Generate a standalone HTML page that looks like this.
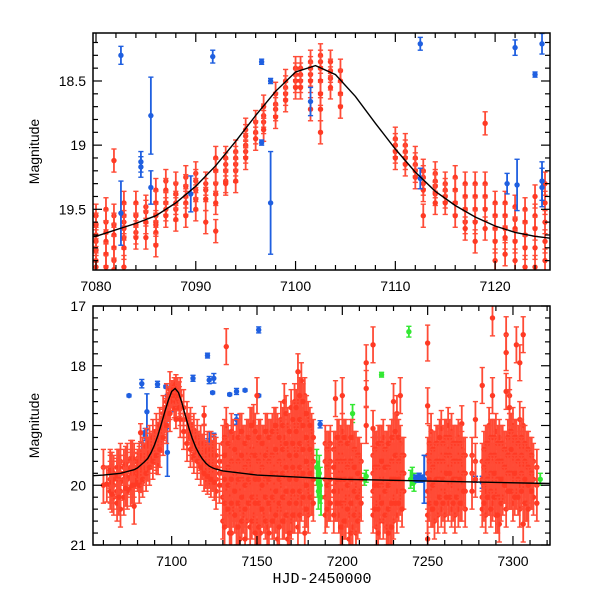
<!DOCTYPE html>
<html><head><meta charset="utf-8"><style>
body{margin:0;background:#fff}
svg{display:block;font-family:"Liberation Sans",sans-serif}
</style></head><body>
<svg id="chart" width="600" height="600" viewBox="0 0 600 600"></svg>
<script>
// ---- data ----
const redTopDays=[7080,7081,7081.8,7082.8,7084,7085,7086,7087,7088,7089,7090,7091,7092,7093,7094,7095,7096,7096.8,7098,7099,7100,7100.5,7101.5,7102.5,7103.5,7104.5,7110,7111,7112,7112.8,7114,7115,7116,7117,7118,7119,7120,7121,7122,7123,7124,7125];
const redTopMags=[[19.55,19.62,19.7,19.75,19.82,19.9,19.95],[19.5,19.6,19.68,19.75,19.85,19.95],[19.12,19.55,19.62,19.7,19.8,19.9,19.97],[19.45,19.55,19.6,19.65,19.72,19.8,19.95],[19.45,19.55,19.62,19.68,19.72],[19.48,19.52,19.6,19.72],[19.35,19.45,19.55,19.6,19.62,19.68,19.78],[19.28,19.35,19.45,19.5,19.55],[19.3,19.38,19.45,19.5,19.58],[19.25,19.32,19.4,19.45,19.55],[19.22,19.28,19.35,19.42,19.5],[19.3,19.35,19.42,19.6],[19.1,19.2,19.3,19.38,19.45,19.67],[19.1,19.15,19.2,19.28,19.3],[19.05,19.1,19.15,19.2,19.28],[18.88,18.93,19.0,19.05,19.1],[18.82,18.9,18.95],[18.7,18.77,18.82,18.88],[18.6,18.68,18.72,18.78],[18.5,18.55,18.6,18.65],[18.4,18.45,18.5,18.55],[18.4,18.45,18.5,18.55],[18.35,18.4,18.45,18.5,18.72],[18.3,18.35,18.4,18.5,18.6,18.72,18.9],[18.35,18.42,18.48,18.55],[18.42,18.5,18.6,18.7],[18.95,19.0,19.05,19.1],[19.0,19.05,19.1,19.15],[19.1,19.15,19.2,19.25],[19.2,19.25,19.3,19.35,19.55],[19.22,19.28,19.32,19.38,19.45],[19.3,19.35,19.4,19.45],[19.25,19.35,19.45,19.55],[19.3,19.4,19.5,19.6,19.65],[19.3,19.4,19.5,19.6,19.75],[18.83,19.3,19.4,19.5,19.65],[19.45,19.55,19.65,19.75,19.9],[19.45,19.55,19.65,19.72,19.85],[19.48,19.58,19.65,19.75,19.9],[19.5,19.6,19.7,19.8,19.95],[19.4,19.55,19.65,19.8,19.95],[19.3,19.45,19.6,19.75,19.9]];
const redTopErr=0.09;
const redBotDays=[7060,7062,7064,7066,7068,7070,7072,7074,7076,7078,7126,7128,7130,7132,7134,7136,7138,7140,7142,7144,7146,7148,7150,7152,7154,7156,7158,7160,7162,7164,7166,7168,7170,7172,7174,7176,7178,7180,7182,7190,7192,7196,7198,7200,7202,7204,7206,7208,7210,7214,7218,7220,7222,7224,7226,7228,7230,7232,7234,7236,7250,7252,7254,7256,7258,7260,7262,7264,7266,7268,7270,7272,7276,7278,7282,7284,7286,7288,7290,7292,7294,7296,7298,7300,7302,7304,7306,7308,7310,7312,7314];
const redBotMags=[[19.7,20.0],[19.98],[19.7,19.8,19.9,20.0,20.1,19.75],[19.8,20.0,20.2,19.9],[19.7,19.9,20.1,20.3,19.85],[19.6,19.8,19.95,20.1,20.4],[19.7,19.9,20.2,19.8],[19.6,19.75,19.9,20.1],[19.55,19.7,19.85,20.05],[19.6,19.75,19.9,20.0,20.35],[19.5,19.7,19.9,20.1],[19.6,19.8,20.0],[19.3,19.6,19.8,20.0,20.2,20.6],[17.68,19.0,19.5,19.8,20.1,20.4],[19.4,19.7,19.9,20.2,20.5,20.8],[19.2,19.6,19.85,20.1,20.4],[19.3,19.5,19.8,20.0,20.3,20.7],[19.1,19.5,19.8,20.1,20.4,20.9],[19.3,19.6,19.9,20.2,20.5],[19.2,19.5,19.8,20.0,20.3,20.6],[19.0,19.4,19.7,20.0,20.3,20.7],[18.95,19.4,19.7,19.9,20.2,20.5],[18.5,19.3,19.6,19.9,20.2,20.6,21.0],[19.2,19.5,19.8,20.1,20.4,20.8],[19.3,19.6,19.9,20.2,20.5],[19.1,19.4,19.8,20.0,20.3,20.7],[19.2,19.5,19.8,20.1,20.4],[19.0,19.4,19.7,20.0,20.3,20.6],[19.1,19.5,19.8,20.1,20.4,20.9],[18.9,19.3,19.7,20.0,20.4],[18.6,19.2,19.6,19.9,20.2,20.6],[19.0,19.4,19.8,20.1,20.5,20.9],[18.7,19.3,19.6,19.9,20.2,20.6],[18.6,19.0,19.4,19.8,20.2,20.5],[18.1,18.6,19.0,19.4,19.8,20.2,20.7],[18.25,18.6,19.0,19.4,19.8,20.3],[18.5,18.8,19.2,19.6,20.0,20.4,20.8],[18.9,19.3,19.7,20.1,20.5],[19.1,19.5,19.8,20.2],[19.3,19.6,19.9,20.2,20.5],[19.4,19.7,20.0,20.3],[18.55,19.4,19.7,20.0,20.3],[19.2,19.5,19.8,20.1,20.5],[18.5,19.1,19.5,19.8,20.1,20.4,20.7],[19.2,19.6,19.9,20.2,20.6],[19.3,19.6,19.9,20.2,20.5,20.9],[19.2,19.6,19.9,20.3,20.7],[19.4,19.7,20.0,20.4,20.8],[19.5,19.8,20.1,20.5],[17.95,18.38,19.0],[17.65,19.05,19.5,19.8,20.1,20.5],[19.4,19.7,20.0,20.3,20.7],[19.3,19.6,19.9,20.2,20.6],[19.2,19.6,19.9,20.3,20.6],[19.4,19.7,20.0,20.4,20.7],[19.3,19.6,19.9,20.3,20.7],[18.6,19.2,19.6,19.9,20.2,20.6],[18.8,19.2,19.5,19.8,20.1,20.5],[18.5,19.3,19.6,19.9,20.2],[19.5,19.8,20.1],[17.62,18.67,19.5,19.8,20.1,20.5,20.9],[19.1,19.5,19.8,20.1,20.4],[19.4,19.7,20.0,20.3,20.6],[19.3,19.6,19.9,20.2,20.5],[19.05,19.5,19.8,20.1,20.4],[19.2,19.5,19.8,20.1,20.5],[19.0,19.4,19.7,20.0,20.3],[19.1,19.4,19.7,20.0,20.4],[19.3,19.6,19.9,20.2,20.5],[19.2,19.5,19.8,20.1,20.4],[18.97,19.4,19.7,20.0,20.3],[19.5,19.8,20.1,20.4],[19.5,19.8,20.1],[18.9,19.6,19.9],[18.33,19.6,19.9,20.2,20.4],[19.3,19.6,19.8,20.1,20.5],[19.0,19.3,19.6,19.9,20.2],[17.2,18.5,19.2,19.6,19.9,20.3],[19.1,19.5,19.8,20.1,20.5],[19.2,19.6,19.9,20.2,20.65],[19.3,19.6,19.9,20.2],[17.48,17.78,18.43,19.4,19.7,20.0,20.4],[18.5,18.7,19.1,19.5,19.8,20.1],[19.0,19.3,19.6,19.9,20.3],[17.65,19.2,19.5,19.8,20.1],[17.95,18.9,19.4,19.7,20.0,20.4],[17.48,19.0,19.4,19.7,20.0,20.65],[19.4,19.7,20.0,20.3],[19.5,19.8,20.1],[19.6,19.9,20.2],[19.7,20.0,20.3]];
const redBot2Days=[7065,7069,7073,7077,7081,7083,7085,7087,7089,7091,7093,7095,7097,7099,7105,7107,7109,7111,7113,7115,7117,7119,7121,7123,7125,7131,7133,7135,7137,7139,7141,7143,7145,7147,7149,7151,7153,7155,7157,7159,7161,7163,7165,7167,7169,7171,7173,7175,7177,7179,7181,7183,7191,7193,7195,7197,7199,7201,7203,7205,7207,7209,7211,7219,7221,7223,7225,7227,7229,7231,7233,7235,7251,7253,7255,7257,7259,7261,7263,7265,7267,7269,7271,7283,7285,7287,7289,7291,7293,7295,7297,7299,7301,7303,7305,7307,7309,7311];
const redBot2Mags=[[19.75,19.95,20.15],[19.7,19.9,20.2],[19.65,19.85,20.05],[19.55,19.8,20.0],[19.6,19.8,20.0],[19.5,19.7,19.9],[19.35,19.6,19.8],[19.3,19.5,19.7],[19.2,19.4,19.6],[19.1,19.3,19.5],[19.0,19.2,19.4],[18.8,19.0,19.2],[18.6,18.8,19.0],[18.4,18.6,18.8],[18.5,18.7,18.9],[18.7,18.9,19.1],[18.9,19.1,19.3],[19.0,19.2,19.4],[19.1,19.3,19.5],[19.2,19.4,19.6],[19.3,19.5,19.7],[19.3,19.55,19.8],[19.4,19.6,19.85],[19.4,19.65,19.9],[19.5,19.7,19.95],[19.2,19.5,19.9,20.3,20.7],[19.3,19.7,20.0,20.4],[19.1,19.6,19.9,20.3,20.8],[19.4,19.8,20.1,20.5],[19.2,19.6,19.9,20.3,20.7],[19.1,19.5,19.9,20.2,20.6],[19.3,19.7,20.0,20.4,20.9],[19.2,19.6,19.9,20.3],[19.0,19.5,19.8,20.2,20.6],[19.1,19.5,19.9,20.3,20.8],[19.2,19.6,19.9,20.3,20.7],[19.3,19.7,20.0,20.4],[19.1,19.5,19.9,20.2,20.6],[19.2,19.6,19.9,20.3,20.8],[19.1,19.5,19.8,20.2,20.6],[19.0,19.4,19.8,20.1,20.5],[19.2,19.6,19.9,20.3,20.7],[19.0,19.4,19.8,20.2,20.6],[18.8,19.3,19.7,20.1,20.5],[19.1,19.5,19.9,20.3,20.8],[18.9,19.3,19.7,20.1,20.5],[18.7,19.1,19.5,19.9,20.3],[18.5,18.9,19.3,19.7,20.1,20.5],[18.6,19.0,19.4,19.8,20.2],[18.8,19.2,19.6,20.0,20.4],[19.0,19.4,19.8,20.2],[19.2,19.6,19.9,20.3],[19.4,19.7,20.0,20.4],[19.3,19.6,19.9,20.3],[19.4,19.7,20.1,20.5],[19.2,19.6,19.9,20.3],[19.3,19.6,19.9,20.3,20.7],[19.2,19.6,19.9,20.3,20.6],[19.3,19.7,20.0,20.4],[19.2,19.6,19.9,20.3,20.8],[19.4,19.7,20.1,20.5],[19.5,19.8,20.2,20.6],[19.6,19.9,20.3],[19.4,19.7,20.0,20.4],[19.3,19.7,20.0,20.4,20.8],[19.3,19.6,20.0,20.3],[19.4,19.7,20.1,20.5],[19.3,19.7,20.0,20.4,20.8],[19.2,19.6,19.9,20.3,20.7],[19.1,19.5,19.9,20.3],[19.2,19.6,19.9,20.3],[19.5,19.8,20.1,20.4],[19.3,19.6,19.9,20.3],[19.4,19.7,20.0,20.4],[19.3,19.6,19.9,20.3],[19.2,19.6,19.9,20.2],[19.3,19.6,19.9,20.3],[19.2,19.5,19.8,20.2],[19.2,19.5,19.8,20.2],[19.3,19.6,19.9,20.3],[19.3,19.6,19.9,20.2],[19.3,19.6,19.9,20.3],[19.5,19.8,20.1],[19.4,19.7,20.0,20.3],[19.3,19.6,19.9,20.2],[19.2,19.5,19.8,20.1,20.4],[19.2,19.5,19.8,20.2],[19.3,19.6,19.9,20.2,20.5],[19.3,19.6,19.9,20.3],[19.4,19.7,20.0],[19.2,19.5,19.8,20.1],[19.1,19.4,19.8,20.1],[19.2,19.5,19.8,20.2],[19.3,19.6,19.9,20.2],[19.2,19.5,19.8,20.1],[19.3,19.6,19.9,20.3],[19.4,19.7,20.0,20.4],[19.5,19.8,20.1],[19.6,19.9,20.2]];
const redBotErr=0.3;
const blueDays=[7075,7082.5,7082.5,7084.5,7084.5,7085.5,7085.5,7089.5,7091.7,7096.6,7096.6,7097.5,7097.5,7101.5,7112.5,7112.5,7121.2,7122.2,7124.7,7124.7,7124.7,7121,7122,7124,7134,7134,7138,7138,7143,7151,7151,7187,7219,7243,7244,7245,7246,7247,7248,7278,7282,7286,7290];
const blueMags=[18.5,18.3,19.53,19.13,19.17,18.77,19.33,19.38,18.31,18.35,18.98,18.5,19.45,18.66,18.21,19.26,19.3,19.31,18.21,19.28,19.33,17.83,18.24,18.45,18.48,19.13,18.43,18.9,18.41,17.4,18.5,18.98,19.2,19.88,19.9,19.85,19.9,19.88,19.9,19.9,19.95,19.9,19.95];
const blueErrs=[0.02,0.07,0.25,0.08,0.08,0.3,0.13,0.14,0.05,0.02,0.02,0.02,0.4,0.11,0.05,0.08,0.08,0.2,0.08,0.15,0.15,0.04,0.06,0.02,0.02,0.05,0.05,0.08,0.02,0.05,0.02,0.06,0.1,0.05,0.05,0.05,0.05,0.05,0.4,0.05,0.1,0.05,0.1];
const greenDays=[7185,7185.5,7186,7186.5,7187,7187.5,7206,7213,7214,7223,7239,7240,7241,7242,7283,7288,7300,7305,7310,7316];
const greenMags=[19.7,19.9,20.1,19.8,20.0,20.2,18.8,19.9,19.85,18.15,17.43,19.9,19.85,19.95,19.95,19.9,19.85,19.9,19.95,19.9];
const greenErrs=[0.3,0.3,0.3,0.3,0.3,0.3,0.15,0.1,0.1,0.04,0.09,0.15,0.15,0.15,0.2,0.2,0.15,0.15,0.1,0.1];
const curveDays=[7054,7060,7070,7078,7080,7082,7084,7086,7088,7090,7092,7094,7096,7098,7100,7102,7104,7106,7108,7110,7112,7114,7116,7118,7120,7122,7124,7126,7130,7150,7200,7322];
const curveMags=[19.84,19.83,19.8,19.74,19.71,19.66,19.61,19.55,19.45,19.32,19.16,18.97,18.77,18.58,18.43,18.38,18.45,18.62,18.83,19.03,19.21,19.36,19.47,19.56,19.63,19.68,19.71,19.73,19.76,19.83,19.9,19.97];
const topXTicks=[7080,7090,7100,7110,7120];
const topYTicks=[18.5,19,19.5];
const botXTicks=[7100,7150,7200,7250,7300];
const botYTicks=[17,18,19,20,21];

// ---- drawing ----
const svg=document.getElementById('chart');
const NS='http://www.w3.org/2000/svg';
function mk(tag,attrs,parent){const e=document.createElementNS(NS,tag);for(const k in attrs)e.setAttribute(k,attrs[k]);(parent||svg).appendChild(e);return e;}
const P={top:{x0:93,x1:550,y0:33,y1:270,d0:7079.7,d1:7125.5,m0:18.126,m1:19.973},
         bot:{x0:93,x1:550,y0:306,y1:545,d0:7053.9,d1:7321.7,m0:17,m1:21}};
function sx(p,d){return p.x0+(d-p.d0)/(p.d1-p.d0)*(p.x1-p.x0);}
function sy(p,m){return p.y0+(m-p.m0)/(p.m1-p.m0)*(p.y1-p.y0);}
const defs=mk('defs',{});
['top','bot'].forEach(k=>{const p=P[k];const c=mk('clipPath',{id:'clip-'+k},defs);mk('rect',{x:p.x0,y:p.y0,width:p.x1-p.x0,height:p.y1-p.y0},c);});

function point(g,p,d,m,e,col,ecol,name){
  const x=sx(p,d),y=sy(p,m),ya=sy(p,m-e),yb=sy(p,m+e);
  const grp=mk('g',{},g);
  
  
  mk('line',{x1:x,y1:ya,x2:x,y2:yb,stroke:ecol,'stroke-width':1.8},grp);
  mk('line',{x1:x-2.6,y1:ya,x2:x+2.6,y2:ya,stroke:ecol,'stroke-width':1.4},grp);
  mk('line',{x1:x-2.6,y1:yb,x2:x+2.6,y2:yb,stroke:ecol,'stroke-width':1.4},grp);
  mk('circle',{cx:x,cy:y,r:2.7,fill:col},grp);
}

function panel(k,xt,yt,minX,minY,withBot){
  const p=P[k];
  const g=mk('g',{});
  
  
  const data=mk('g',{'clip-path':'url(#clip-'+k+')'},g);
  const RED='#ff3a24',REDE='#ff4b36',BLUE='#1f5fe0',GREEN='#33e833';
  const col=(ds,ms,err,name)=>ds.forEach((d,i)=>ms[i].forEach(m=>point(data,p,d,m,err,RED,REDE,name)));
  if(withBot){
    greenDays.forEach((d,i)=>point(data,p,d,greenMags[i],greenErrs[i],GREEN,GREEN,'green-point'));
    blueDays.forEach((d,i)=>point(data,p,d,blueMags[i],blueErrs[i],BLUE,BLUE,'blue-point'));
  }
  col(redTopDays,redTopMags,k==='top'?redTopErr:0.15,'red-point');
  if(withBot){
    col(redBotDays,redBotMags,redBotErr,'red-point');
    col(redBot2Days,redBot2Mags,redBotErr,'red-point');
    // blue cluster on top near 7245
    blueDays.forEach((d,i)=>{if(d>7240&&d<7250)point(data,p,d,blueMags[i],blueErrs[i],BLUE,BLUE,'blue-point');});
  } else {
    blueDays.forEach((d,i)=>point(data,p,d,blueMags[i],blueErrs[i],BLUE,BLUE,'blue-point'));
  }
  let path='';curveDays.forEach((d,i)=>{path+=(i?'L':'M')+sx(p,d).toFixed(1)+','+sy(p,curveMags[i]).toFixed(1);});
  const c=mk('path',{d:path,fill:'none',stroke:'#000','stroke-width':1.4},data);
  
  
  const fr=mk('rect',{x:p.x0,y:p.y0,width:p.x1-p.x0,height:p.y1-p.y0,fill:'none',stroke:'#000','stroke-width':1.5},g);
  
  
  for(let d=Math.ceil(p.d0/minX)*minX;d<=p.d1;d+=minX){const x=sx(p,d);const maj=xt.some(t=>Math.abs(t-d)<1e-6);const L=maj?9:5;
    mk('line',{x1:x,y1:p.y1,x2:x,y2:p.y1-L,stroke:'#000','stroke-width':1.2},g);mk('line',{x1:x,y1:p.y0,x2:x,y2:p.y0+L,stroke:'#000','stroke-width':1.2},g);}
  for(let m=Math.ceil(p.m0/minY-1e-6)*minY;m<=p.m1+1e-6;m+=minY){const y=sy(p,m);const maj=yt.some(t=>Math.abs(t-m)<1e-6);const L=maj?9:5;
    mk('line',{x1:p.x0,y1:y,x2:p.x0+L,y2:y,stroke:'#000','stroke-width':1.2},g);mk('line',{x1:p.x1,y1:y,x2:p.x1-L,y2:y,stroke:'#000','stroke-width':1.2},g);}
  xt.forEach(t=>{const e=mk('text',{x:sx(p,t),y:p.y1+21,'text-anchor':'middle','font-size':14},g);e.textContent=t;
    });
  yt.forEach(t=>{const e=mk('text',{x:p.x0-7,y:sy(p,t)+5,'text-anchor':'end','font-size':14},g);e.textContent=t;
    });
  const yl=mk('text',{x:0,y:0,'text-anchor':'middle','font-size':14,transform:'translate(39,'+((p.y0+p.y1)/2)+') rotate(-90)'},g);
  yl.textContent='Magnitude';
  
  
}
panel('top',topXTicks,topYTicks,2,0.1,false);
panel('bot',botXTicks,botYTicks,10,0.2,true);
const xl=mk('text',{x:322,y:583,'text-anchor':'middle','font-size':15,'font-family':'Liberation Mono, monospace'});
xl.textContent='HJD-2450000';


</script>
</body></html>
